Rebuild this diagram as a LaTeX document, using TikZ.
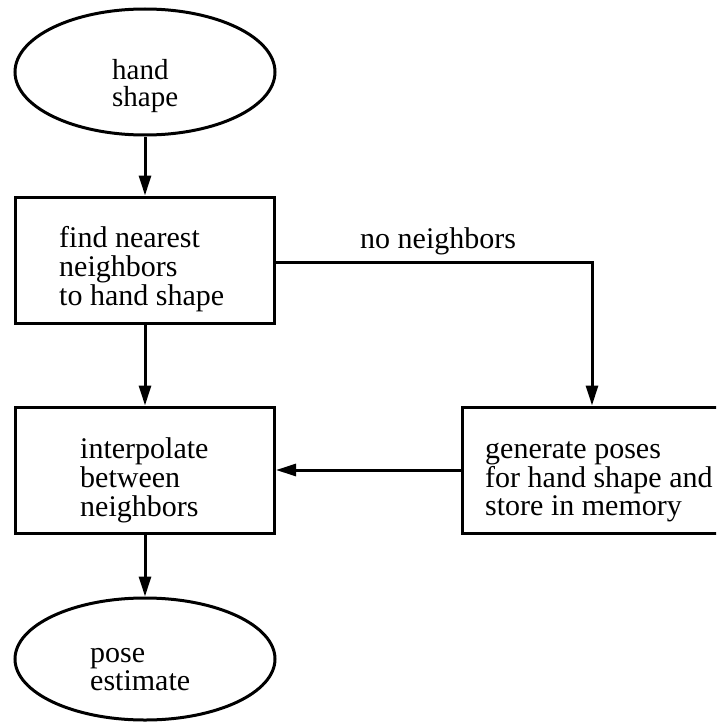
\documentclass[tikz,border=0pt]{standalone}
\usepackage{fontspec}
\setmainfont{Liberation Serif}
\usetikzlibrary{shapes.geometric,arrows.meta}
\tikzset{
  shapeline/.style={draw=black, line width=3pt, inner sep=0pt},
  boxnode/.style={shapeline, rectangle, minimum width=259pt, minimum height=126pt},
  ovalnode/.style={shapeline, ellipse, minimum width=260pt},
  txt/.style={anchor=base west, inner sep=0pt, font=\fontsize{30}{27.5}\selectfont},
  arr/.style={line width=3pt, -{Triangle[length=20pt,width=12pt]}}
}
\newcommand{\lines}[1]{\begin{tabular}[t]{@{}l@{}}#1\end{tabular}}
\begin{document}
\begin{tikzpicture}[x=1pt,y=-1pt]
\useasboundingbox (0,0) rectangle (716,725);
\clip (0,0) rectangle (716,725);
% shapes
\node[ovalnode, minimum height=126pt] (e1) at (145,72) {};
\node[boxnode] (b1) at (145,260) {};
\node[boxnode] (b2) at (145,470) {};
\node[boxnode, minimum width=273pt] (b3) at (598.5,470) {};
\node[ovalnode, minimum height=122pt] (e2) at (145,659) {};
% texts
\node[txt, font=\fontsize{29}{25}\selectfont] (t1) at (112,79) {\lines{hand\\shape}};
\node[txt] (t2) at (59,247) {\lines{find nearest\\neighbors\\to hand shape}};
\node[txt, font=\fontsize{30}{28}\selectfont] (t3) at (80,458) {\lines{interpolate\\between\\neighbors}};
\node[txt, font=\fontsize{30}{28}\selectfont] (t4) at (485,458) {\lines{generate poses\\for hand shape and\\store in memory}};
\node[txt, font=\fontsize{30}{28}\selectfont] (t5) at (90,662) {\lines{pose\\estimate}};
\node[txt] (lbl) at (360,248) {no neighbors};
% connectors
\draw[arr] (e1.south) -- (b1.north);
\draw[arr] (b1.south) -- (b2.north);
\draw[arr] ([yshift=-2pt]b1.east) -| ([xshift=-6.5pt]b3.north);
\draw[arr] (b3.west) -- (b2.east);
\draw[arr] (b2.south) -- (e2.north);
\end{tikzpicture}
\end{document}
